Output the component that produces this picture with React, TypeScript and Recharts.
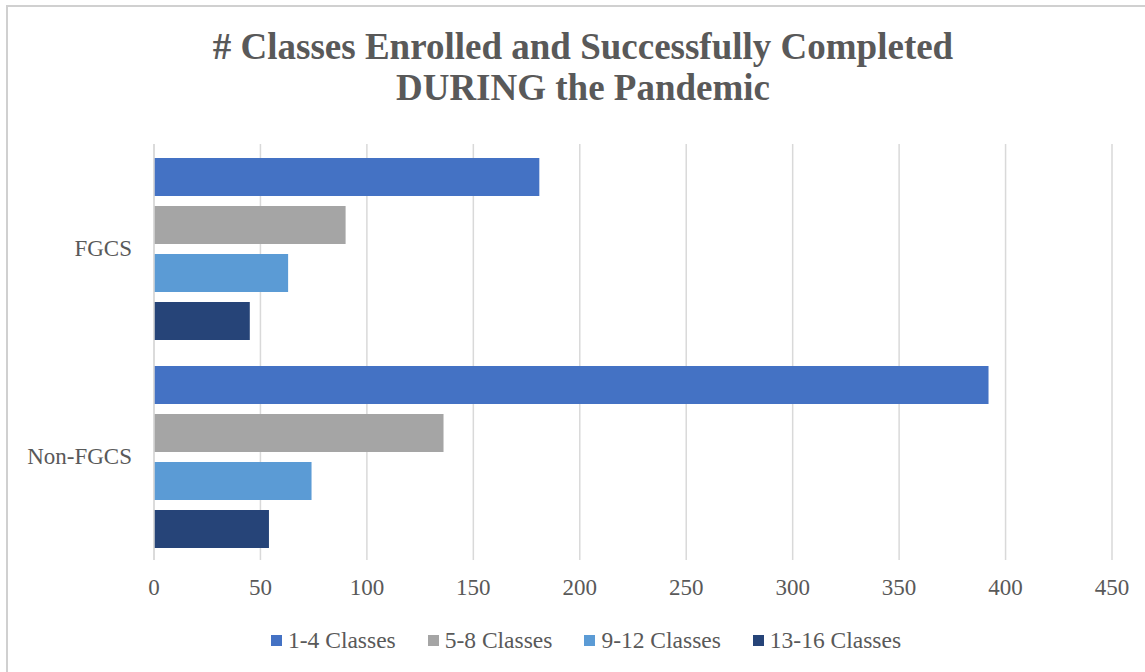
import React from "react"
import { BarChart, Bar, XAxis, YAxis, CartesianGrid } from "recharts"

// categories (top to bottom)
const groups = ["FGCS", "Non-FGCS"]

// series, in legend order
const seriesNames = ["1-4 Classes", "5-8 Classes", "9-12 Classes", "13-16 Classes"]
const seriesColors = ["#4472C4", "#A5A5A5", "#5B9BD5", "#264478"]

// values per series, one per group
const classes1to4 = [181, 392]
const classes5to8 = [90, 136]
const classes9to12 = [63, 74]
const classes13to16 = [45, 54]

const xTicks = [0, 50, 100, 150, 200, 250, 300, 350, 400, 450]

const seriesValues = [classes1to4, classes5to8, classes9to12, classes13to16]
const keys = ["s1", "s2", "s3", "s4"]

const data = groups.map((g, i) => {
  const row: any = { group: g }
  keys.forEach((k, j) => {
    row[k] = seriesValues[j][i]
  })
  return row
})

const FONT = "'Liberation Serif', 'Times New Roman', serif"
const TEXT = "#595959"
const GRID = "#D9D9D9"

export default function App() {
  return (
    <div style={{ position: "relative", width: 1130, height: 650, fontFamily: FONT }}>
      <div
        style={{
          position: "absolute",
          left: 0,
          top: 18,
          width: 1150,
          textAlign: "center",
          fontSize: 37,
          lineHeight: "41px",
          fontWeight: "bold",
          color: TEXT,
        }}
      >
        # Classes Enrolled and Successfully Completed
        <br />
        DURING the Pandemic
      </div>

      <BarChart
        width={1130}
        height={650}
        data={data}
        layout="vertical"
        margin={{ top: 136, right: 26, left: 10, bottom: 58 }}
        barCategoryGap={14}
        barGap={10}
      >
        <CartesianGrid horizontal={false} stroke={GRID} strokeWidth={1.5} />
        <XAxis
          type="number"
          domain={[0, 450]}
          ticks={xTicks}
          height={40}
          axisLine={false}
          tickLine={false}
          tickMargin={13}
          tick={{ fill: TEXT, fontSize: 23, fontFamily: FONT }}
        />
        <YAxis
          type="category"
          dataKey="group"
          width={136}
          axisLine={{ stroke: GRID, strokeWidth: 1.5 }}
          tickLine={false}
          tickMargin={16}
          tick={{ fill: TEXT, fontSize: 23, fontFamily: FONT }}
        />
        {keys.map((k, i) => (
          <Bar key={k} dataKey={k} name={seriesNames[i]} fill={seriesColors[i]} isAnimationActive={false} />
        ))}
      </BarChart>

      <div
        style={{
          position: "absolute",
          left: 263,
          top: 619,
          display: "flex",
          alignItems: "center",
          gap: 32,
          fontSize: 23.5,
          lineHeight: "26px",
          color: TEXT,
          whiteSpace: "nowrap",
        }}
      >
        {seriesNames.map((name, i) => (
          <div key={name} style={{ display: "flex", alignItems: "center" }}>
            <span style={{ width: 11, height: 11, background: seriesColors[i], marginRight: 6, display: "inline-block" }} />
            <span>{name}</span>
          </div>
        ))}
      </div>

      {/* chart area border (only top/left edges fall inside the picture) */}
      <div
        style={{
          position: "fixed",
          left: 6,
          top: 5,
          width: 1139,
          height: 667,
          borderLeft: "2px solid #D0D0D0",
          borderTop: "2px solid #D0D0D0",
          boxSizing: "border-box",
          pointerEvents: "none",
          zIndex: 2,
        }}
      />
    </div>
  )
}
